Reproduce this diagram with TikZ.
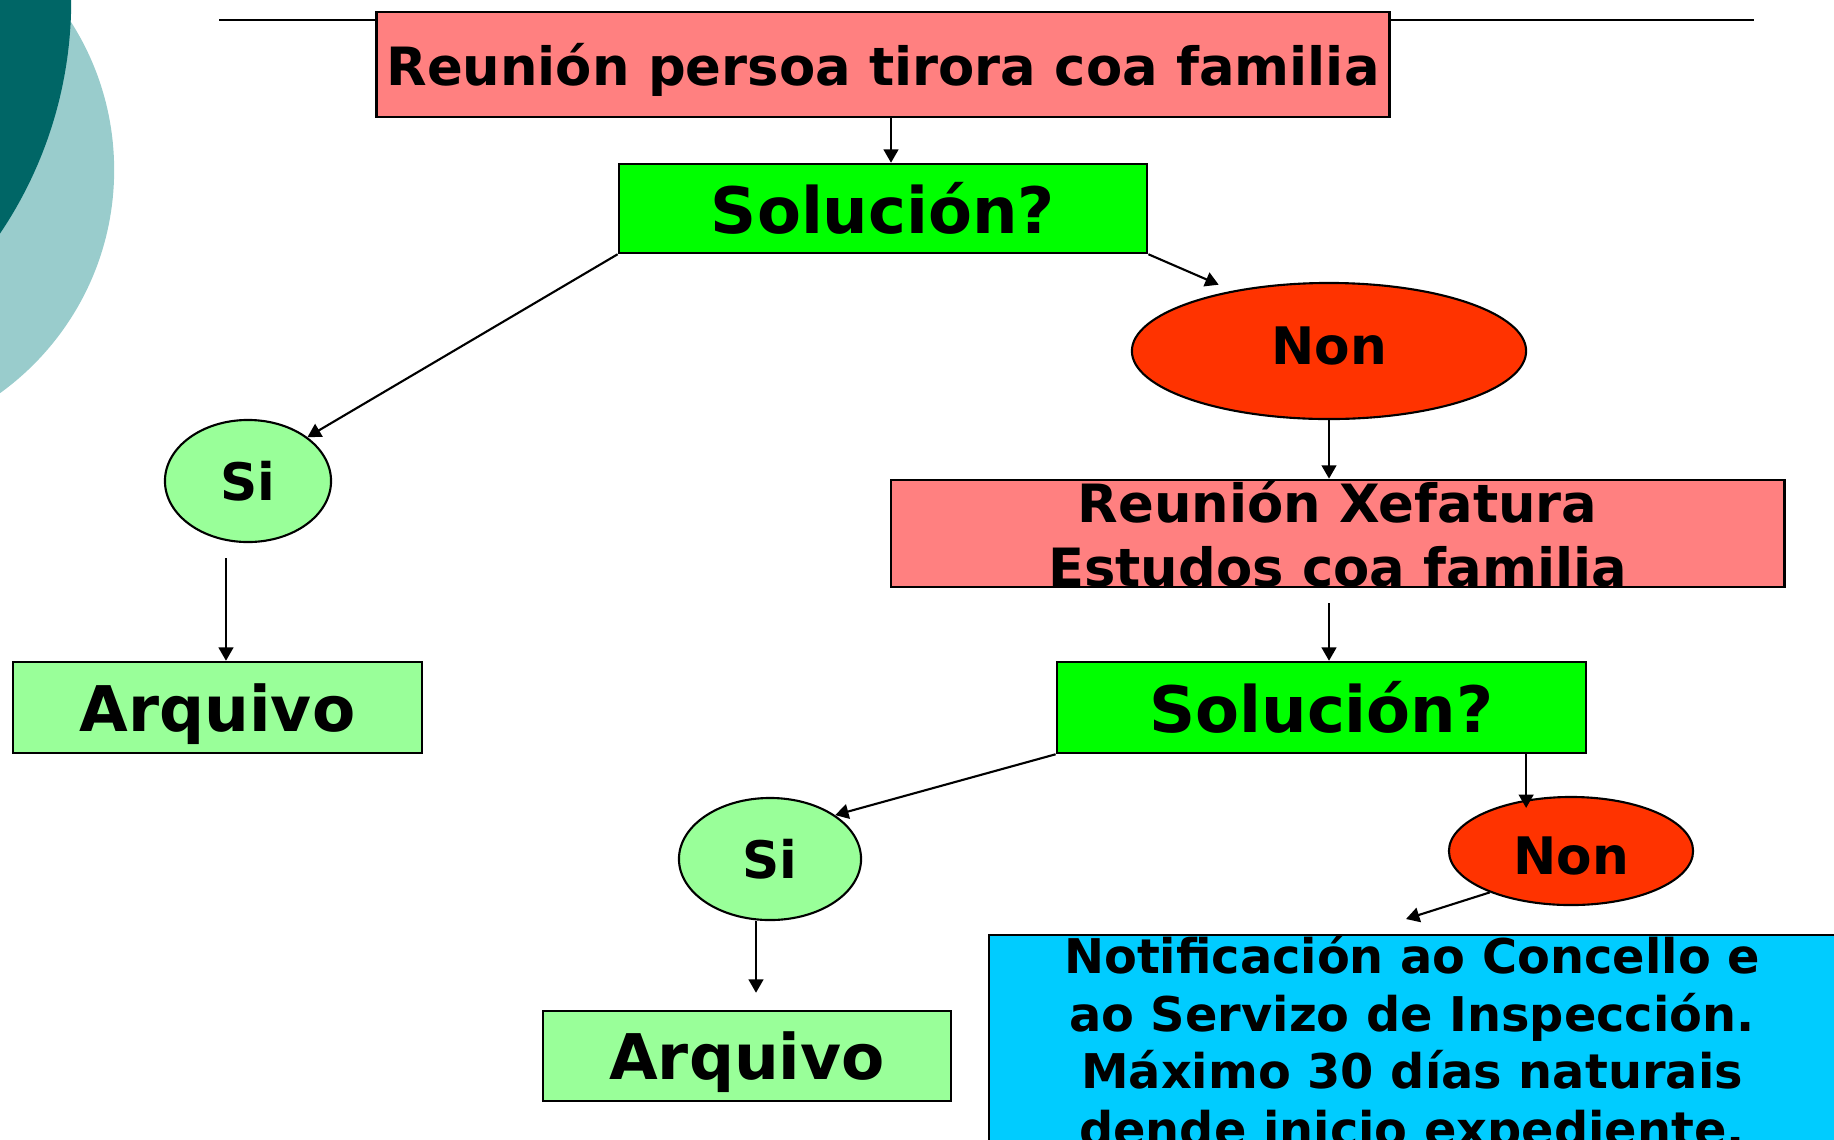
\documentclass[tikz,border=0pt]{standalone}
\usepackage{fontspec}
\setmainfont{DejaVu Sans}
\usetikzlibrary{arrows.meta,shapes.geometric}
\definecolor{boxpink}{HTML}{FF8080}
\definecolor{boxgreen}{HTML}{00FF00}
\definecolor{boxlight}{HTML}{99FF99}
\definecolor{boxred}{HTML}{FF3300}
\definecolor{boxcyan}{HTML}{00CCFF}
\definecolor{tealdark}{HTML}{006666}
\definecolor{tealpale}{HTML}{99CCCC}

\begin{document}
\begin{tikzpicture}[x=0.01cm, y=-0.01cm,
        box/.style={draw, line width=0.7pt, inner sep=0pt},
        oval/.style={ellipse, draw, line width=0.6pt, inner sep=0pt},
        arrow/.style={line width=0.6pt, -{Triangle[length=3.8pt, width=4.2pt]}}]
        \useasboundingbox (0,0) rectangle (1834,1139);
        \clip (0,0) rectangle (1834,1139);

        % decoration top left
        \fill[tealpale] (-161,170) circle (2.75cm);
        \fill[tealdark] (-347,0) circle (4.18cm);
        \draw[line width=0.6pt] (219,20) -- (1754,20);

        \node[box, fill=boxpink, minimum width=10.12cm, minimum height=1.05cm, text depth=0pt, font=\fontsize{15}{18}\selectfont\bfseries] (reunion) at (883,64.5) {Reunión persoa tirora coa familia};
        \node[box, fill=boxgreen, minimum width=5.28cm, minimum height=0.89cm, font=\fontsize{18.2}{22}\selectfont\bfseries] (sol) at (883,208.5) {Solución?};
        \node[oval, fill=boxred, minimum width=3.94cm, minimum height=1.36cm, text depth=2.8pt, font=\fontsize{14.7}{18}\selectfont\bfseries] (non) at (1329,351) {Non};
        \node[oval, fill=boxlight, minimum width=1.66cm, minimum height=1.22cm, font=\fontsize{14.7}{18}\selectfont\bfseries] (si) at (248,481) {Si};
        \node[box, fill=boxlight, minimum width=4.09cm, minimum height=0.91cm, text depth=0pt, font=\fontsize{17.9}{22}\selectfont\bfseries] (arquivo) at (217.5,707.5) {Arquivo};

        \node[box, fill=boxpink, minimum width=8.93cm, align=center, font=\fontsize{15}{18.3}\selectfont\bfseries] (xefatura) at (1337.5,533.5) {Reunión Xefatura\\Estudos coa familia};
        \node[box, fill=boxgreen, minimum width=5.29cm, minimum height=0.91cm, font=\fontsize{18.2}{22}\selectfont\bfseries] (sol2) at (1321.5,707.5) {Solución?};
        \node[oval, fill=boxlight, minimum width=1.82cm, minimum height=1.22cm, font=\fontsize{14.7}{18}\selectfont\bfseries] (si2) at (770,859) {Si};
        \node[box, fill=boxlight, minimum width=4.08cm, minimum height=0.90cm, text depth=0pt, font=\fontsize{17.9}{22}\selectfont\bfseries] (arquivo2) at (747,1056) {Arquivo};
        \node[oval, fill=boxred, minimum width=2.44cm, minimum height=1.08cm, text height=13.3pt, font=\fontsize{14.7}{18}\selectfont\bfseries] (non2) at (1571,851) {Non};
        \node[box, fill=boxcyan, anchor=north, minimum width=8.46cm, align=center, font=\fontsize{13.6}{16.4}\selectfont\bfseries] (notif) at (1412,934) {Notificación ao Concello e\\ao Servizo de Inspección.\\Máximo 30 días naturais\\ dende inicio expediente.};

        \draw[arrow] ([xshift=0.08cm]reunion.south) -- ([xshift=0.08cm]sol.north);
        \draw[arrow] (sol.south west) -- (si.north east);
        \draw[arrow, shorten >=0.15cm] (sol.south east) -- (non.148);
        \draw[arrow, shorten <=0.15cm] ([xshift=-0.22cm]si.south) -- ([xshift=-0.22cm]si.south |- arquivo.north);
        \draw[arrow] (non.south) -- (non.south |- xefatura.north);
        \draw[arrow, shorten <=0.15cm] (non.south |- xefatura.south) -- (non.south |- sol2.north);
        \draw[arrow] (sol2.south west) -- (si2.north east);
        \draw[arrow, shorten >=0.17cm] ([xshift=-0.14cm]si2.south) -- ([xshift=-0.14cm]si2.south |- arquivo2.north);
        \draw[arrow, shorten >=-0.12cm] ([xshift=2.045cm]sol2.south) -- ([xshift=2.045cm]sol2.south |- non2.north);
        \draw[arrow] (non2.207) -- ([shift={(-6,-15)}]notif.north);
    \end{tikzpicture}
\end{document}
